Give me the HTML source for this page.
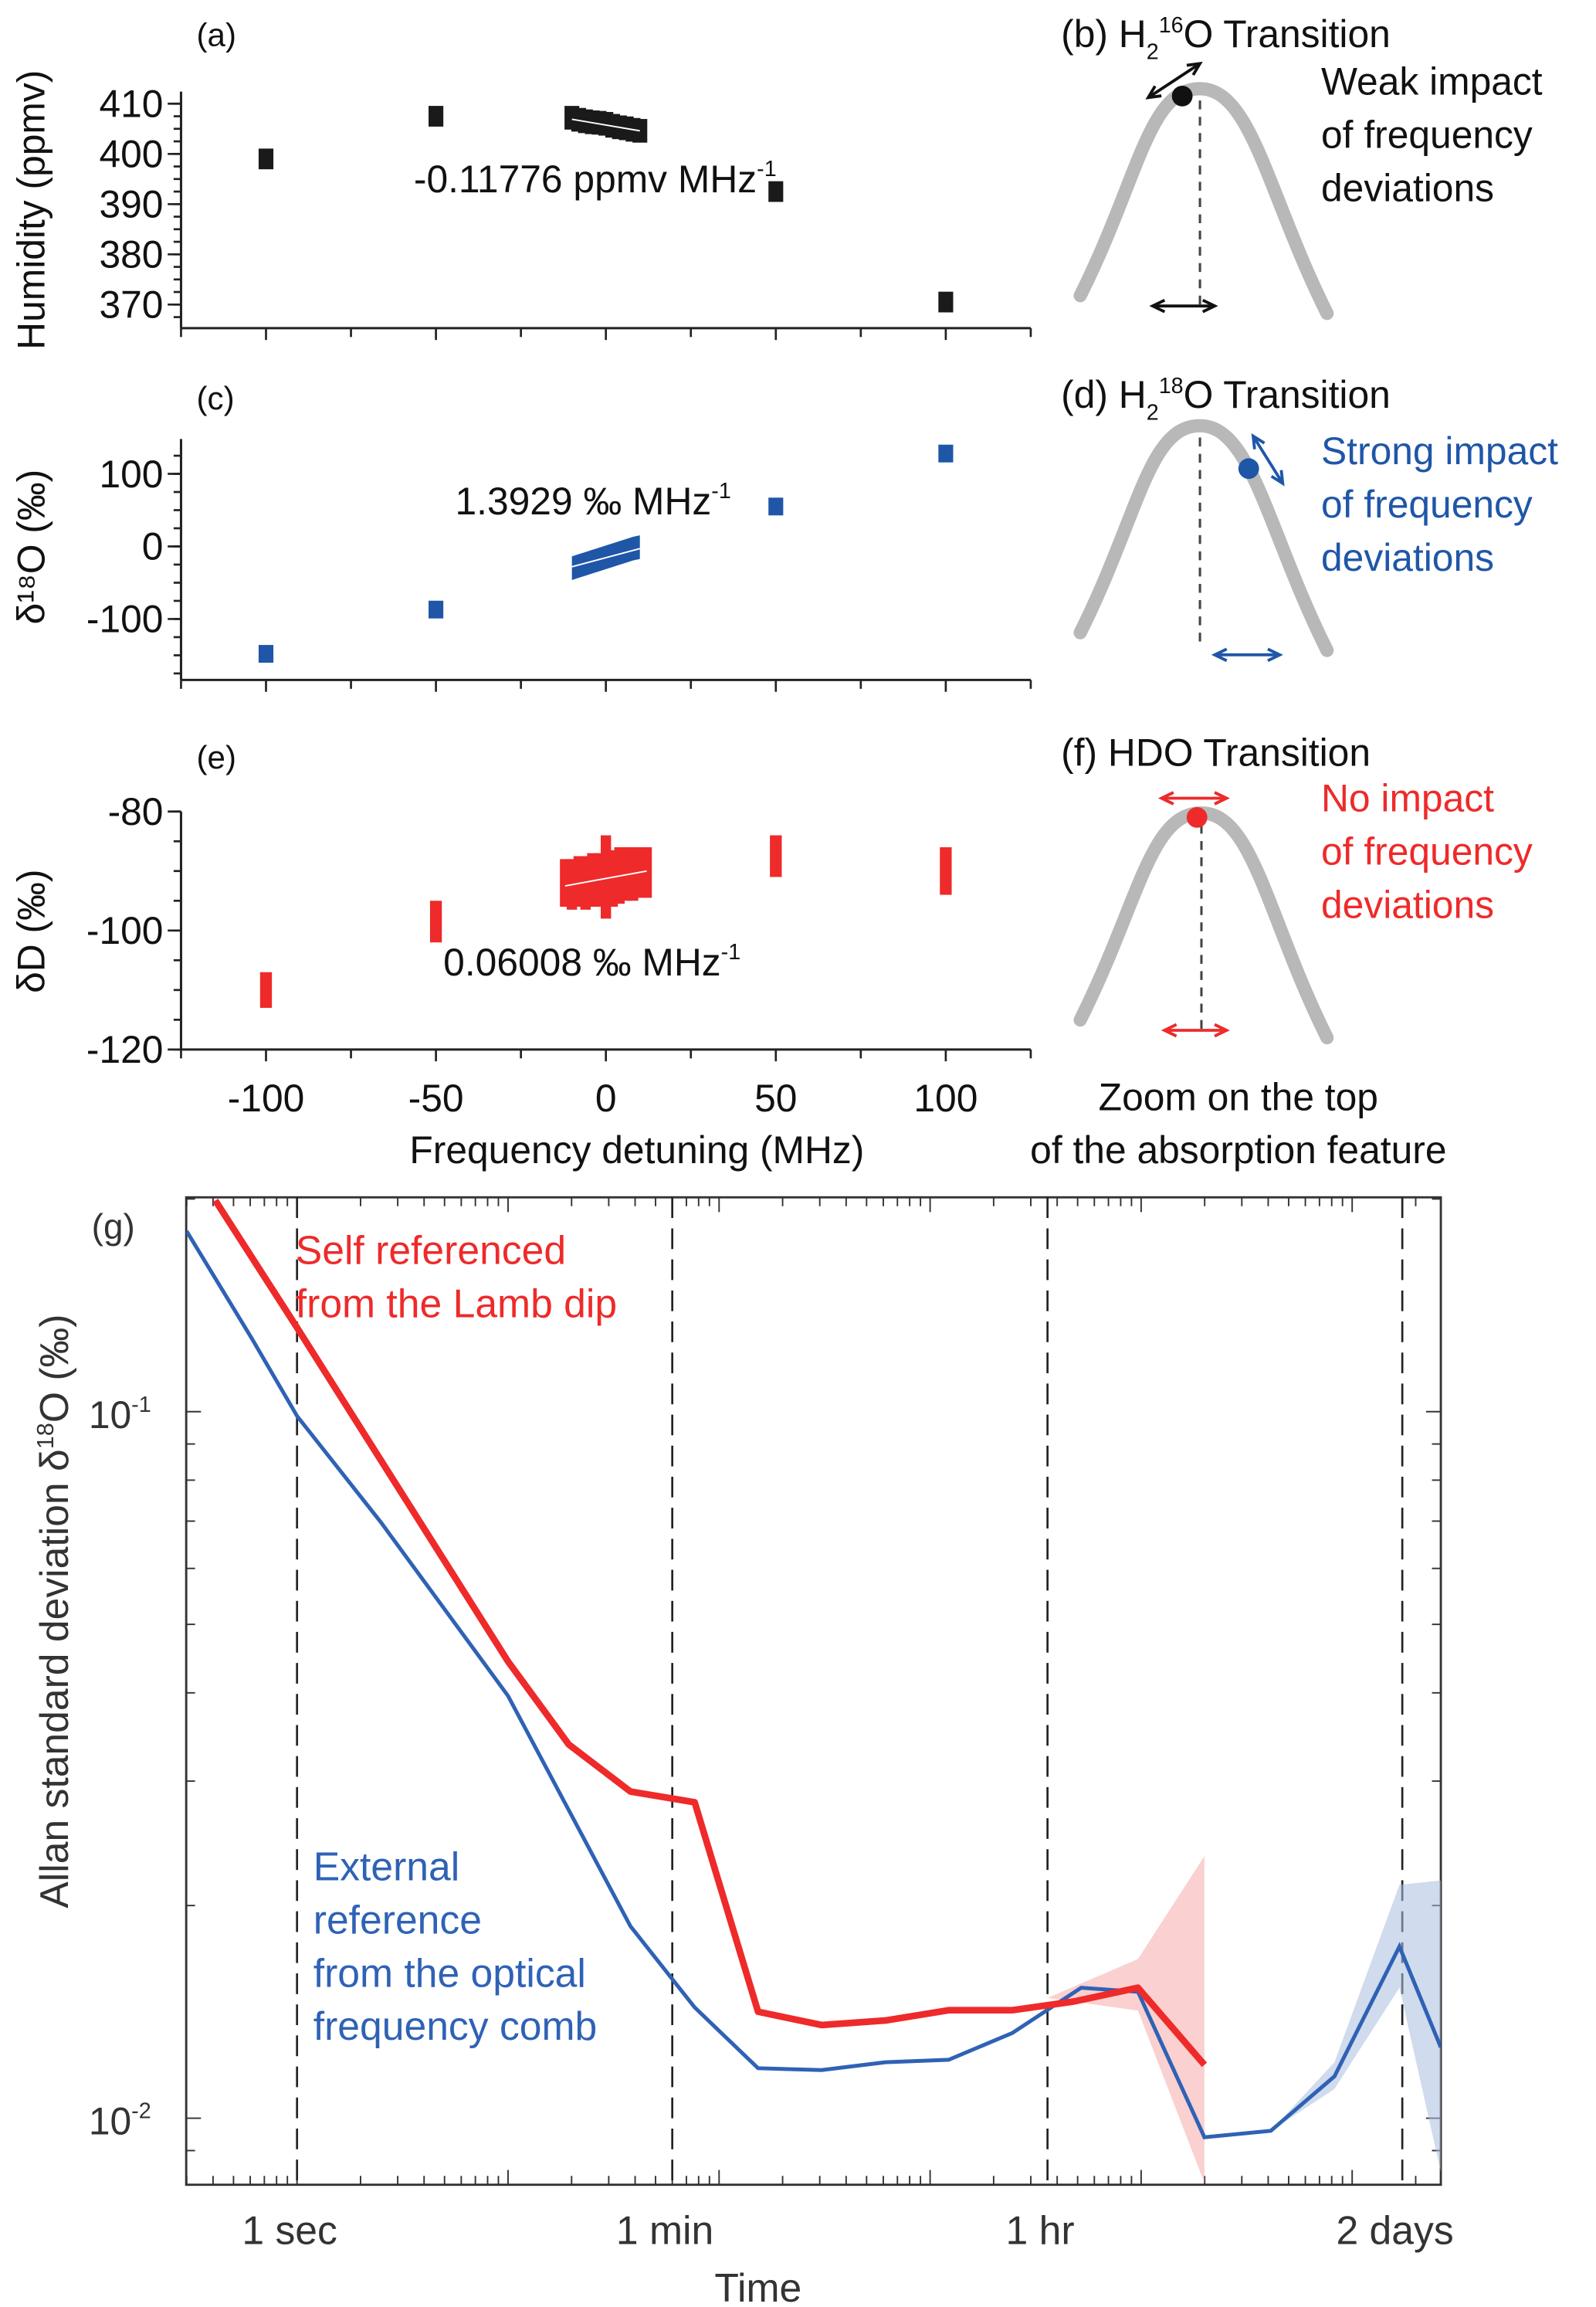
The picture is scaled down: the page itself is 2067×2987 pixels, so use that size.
<!DOCTYPE html>
<html><head><meta charset="utf-8"><style>
html,body{margin:0;padding:0;background:#fff}
svg{display:block}
text{font-family:"Liberation Sans",sans-serif}
</style></head><body>
<svg id="fig" xmlns="http://www.w3.org/2000/svg" width="2067" height="2987" viewBox="0 0 1080 1560.7">
<g id="topPanels"></g>
<g id="sch"></g>
<g id="allan"></g>
</svg>
<script>
// ---------- data ----------
const humX = [-100, -50, 50, 100];
const humY = [399, 407.5, 392.5, 370.5];
const humClusterX = [-10,-8,-6,-4,-2,0,2,4,6,8,10];
const humClusterY = [407.2,406.8,406.5,406.3,406.2,406,405.6,405.3,405.1,404.8,404.6];
const d18X = [-100, -50, 50, 100];
const d18Y = [-148, -87, 55, 128];
const d18ClusterX = [-10,-8,-6,-4,-2,0,2,4,6,8,10];
const d18ClusterY = [-30,-27,-24,-21,-18,-15,-12,-9,-6,-3,-1];
const dDX = [-100, -50, 50, 100];
const dDLo = [-113, -102, -91, -94];
const dDHi = [-107, -95, -84, -86];
const dDClusterX = [-12,-10,-8,-6,-4,-2,0,2,4,6,8,10,12];
const dDClusterLo = [-96,-96.5,-96,-96.5,-96,-96,-98,-96,-95.5,-95,-95,-94.5,-94.5];
const dDClusterHi = [-88,-88,-87.5,-87.5,-87,-87,-84,-86.5,-86,-86,-86,-86,-86];

const redTau = [0.41,1,2.5,10,19.4,38,76.6,153,306,612,1225,2450,4800,9660,19950];
const redVal = [0.199,0.1315,0.0853,0.0443,0.0338,0.029,0.028,0.01415,0.01355,0.01375,0.01422,0.01422,0.01463,0.0153,0.0119];
const blueTau = [0.30,0.61,1,2.5,10,38,76.6,153,306,612,1225,2450,5200,9660,19950,41200,82400,167500,263000];
const blueVal = [0.180,0.127,0.0986,0.0697,0.0396,0.0187,0.01435,0.01177,0.0117,0.0120,0.0121,0.0132,0.0153,0.0151,0.0094,0.0096,0.01146,0.0175,0.0126];
const redBandTau = [3600, 9660, 19950];
const redBandHi = [0.0148, 0.0168, 0.0235];
const redBandLo = [0.0148, 0.0142, 0.0081];
const blueBandTau = [41200, 82400, 167500, 263000];
const blueBandHi = [0.0096, 0.0120, 0.0214, 0.0217];
const blueBandLo = [0.0096, 0.0110, 0.0153, 0.0084];
const xTickLabels = ['-100','-50','0','50','100'];
const xTickVals = [-100,-50,0,50,100];

const NS='http://www.w3.org/2000/svg';
function mk(tag, attrs, parent){const e=document.createElementNS(NS,tag);for(const k in attrs)e.setAttribute(k,attrs[k]);parent.appendChild(e);return e;}
function txt(parent,x,y,s,size,fill,anchor){const t=mk('text',{x:x,y:y,'font-size':size,fill:fill||'#111','text-anchor':anchor||'start'},parent);t.textContent=s;return t;}
function slopeTxt(parent,x,y,s){const t=mk('text',{x:x,y:y,'font-size':26,fill:'#111'},parent);t.innerHTML=s+'<tspan font-size="15" dy="-11">-1</tspan>';return t;}

// ---------- top panels ----------
const topG=document.getElementById('topPanels');
const X0=122.5, X1=697.5;
const xs=v=>X0+(v+125)/250*(X1-X0);
function panel(yTop,yBot,ymin,ymax,majors,minorStep,name){
  const g=mk('g',{},topG);
  
  
  const ys=v=>yBot-(v-ymin)/(ymax-ymin)*(yBot-yTop);
  mk('line',{x1:X0,y1:yTop,x2:X0,y2:yBot,stroke:'#222','stroke-width':1.6},g);
  mk('line',{x1:X0,y1:yBot,x2:X1,y2:yBot,stroke:'#222','stroke-width':1.6},g);
  for(let v=-125;v<=125;v+=25){const maj=(v%50===0);mk('line',{x1:xs(v),y1:yBot,x2:xs(v),y2:yBot+(maj?8:6),stroke:'#222','stroke-width':1.4},g);}
  for(let v=Math.ceil(ymin/minorStep)*minorStep;v<=ymax;v+=minorStep){mk('line',{x1:X0,y1:ys(v),x2:X0-5,y2:ys(v),stroke:'#222','stroke-width':1.4},g);}
  majors.forEach(v=>{mk('line',{x1:X0,y1:ys(v),x2:X0-9,y2:ys(v),stroke:'#222','stroke-width':1.4},g);
    const t=txt(g,X0-12,ys(v)+9,String(v),26,'#111','end');
    
    });
  return {g,ys};
}
// (a)
let P=panel(62,222,365.3,412.4,[370,380,390,400,410],2.5,'humidity-panel');
txt(topG,133,31,'(a)',22);
humX.forEach((x,i)=>{const r=mk('rect',{x:xs(x)-5,y:P.ys(humY[i])-7,width:10,height:14,fill:'#1a1a1a'},P.g);
  
  });
humClusterX.forEach((x,i)=>{const r=mk('rect',{x:xs(x)-5,y:P.ys(humClusterY[i])-8,width:10,height:16,fill:'#1a1a1a'},P.g);
  
  });
mk('line',{x1:xs(-10),y1:P.ys(406.9),x2:xs(10),y2:P.ys(404.6),stroke:'#fff','stroke-width':1},P.g);
slopeTxt(topG,280,130,'-0.11776 ppmv MHz');
let t=mk('text',{x:30,y:142,'font-size':26,fill:'#111','text-anchor':'middle',transform:'rotate(-90 30 142)'},topG);t.textContent='Humidity (ppmv)';
// (c)
P=panel(297,460,-184,148,[-100,0,100],25,'d18o-panel');
txt(topG,133,277,'(c)',22);
d18X.forEach((x,i)=>{const r=mk('rect',{x:xs(x)-5,y:P.ys(d18Y[i])-6,width:10,height:12,fill:'#1f56a8'},P.g);
  
  });
let pts=d18ClusterX.map((x,i)=>xs(x)+','+(P.ys(d18ClusterY[i])-8)).join(' ')+' '+d18ClusterX.slice().reverse().map((x,i)=>xs(x)+','+(P.ys(d18ClusterY[d18ClusterY.length-1-i])+8)).join(' ');
let pg=mk('polygon',{points:pts,fill:'#1f56a8'},P.g);


mk('line',{x1:xs(-10),y1:P.ys(-28),x2:xs(10),y2:P.ys(-3),stroke:'#fff','stroke-width':1},P.g);
slopeTxt(topG,308,348,'1.3929 ‰ MHz');
t=mk('text',{x:30,y:370,'font-size':26,fill:'#111','text-anchor':'middle',transform:'rotate(-90 30 370)'},topG);t.textContent='δ¹⁸O (‰)';
// (e)
P=panel(549,710,-120,-80,[-80,-100,-120],5,'dd-panel');
txt(topG,133,520,'(e)',22);
dDX.forEach((x,i)=>{const r=mk('rect',{x:xs(x)-4,y:P.ys(dDHi[i]),width:8,height:P.ys(dDLo[i])-P.ys(dDHi[i]),fill:'#ee2a2a'},P.g);
  
  });
dDClusterX.forEach((x,i)=>{const r=mk('rect',{x:xs(x)-3.5,y:P.ys(dDClusterHi[i]),width:7,height:P.ys(dDClusterLo[i])-P.ys(dDClusterHi[i]),fill:'#ee2a2a'},P.g);
  
  });
mk('line',{x1:xs(-12),y1:P.ys(-92.5),x2:xs(12),y2:P.ys(-90),stroke:'#fff','stroke-width':1},P.g);
slopeTxt(topG,300,660,'0.06008 ‰ MHz');
t=mk('text',{x:30,y:630,'font-size':26,fill:'#111','text-anchor':'middle',transform:'rotate(-90 30 630)'},topG);t.textContent='δD (‰)';
xTickVals.forEach((v,i)=>{const l=txt(topG,xs(v),752,xTickLabels[i],26,'#111','middle');
  
  });
t=txt(topG,431,787,'Frequency detuning (MHz)',26,'#111','middle');


// ---------- schematics ----------
const sch=document.getElementById('sch');
function arrow(g,x1,y1,x2,y2,c){mk('line',{x1:x1,y1:y1,x2:x2,y2:y2,stroke:c,'stroke-width':2},g);
  const a=Math.atan2(y2-y1,x2-x1),AL=9,W=0.45;
  [[x2,y2,a],[x1,y1,a+Math.PI]].forEach(([x,y,b])=>{mk('polyline',{points:(x-AL*Math.cos(b-W))+','+(y-AL*Math.sin(b-W))+' '+x+','+y+' '+(x-AL*Math.cos(b+W))+','+(y-AL*Math.sin(b+W)),fill:'none',stroke:c,'stroke-width':2},g);});}
function curve(g,x0,y0,px,py,x1,y1){mk('path',{d:`M${x0},${y0} C${x0+40},${y0-80} ${px-35},${py} ${px},${py} C${px+35},${py} ${x1-40},${y1-80} ${x1},${y1}`,fill:'none',stroke:'#b8b8b8','stroke-width':9,'stroke-linecap':'round'},g);}
function schematic(y0,name,col,dot,arr,harr,peakx){
  const g=mk('g',{},sch);
  
  
  curve(g,731,y0+140,peakx,y0,898,y0+152);
  mk('line',{x1:peakx,y1:y0+8,x2:peakx,y2:y0+146,stroke:'#444','stroke-width':1.6,'stroke-dasharray':'6,5'},g);
  mk('circle',{cx:dot[0],cy:dot[1],r:7,fill:col},g);
  arrow(g,arr[0],arr[1],arr[2],arr[3],col);
  arrow(g,harr[0],harr[1],harr[2],harr[3],col);
  return g;
}
let g=schematic(60,'h2-16o-schematic','#111',[800,65],[777,66,812,43],[780,207,822,207],812);
['Weak impact','of frequency','deviations'].forEach((s,i)=>txt(g,894,64+i*36,s,26,'#111'));
t=mk('text',{x:718,y:32,'font-size':26,fill:'#111'},g);t.innerHTML='(b) H<tspan font-size="15" dy="8">2</tspan><tspan font-size="15" dy="-18">16</tspan><tspan dy="10">O Transition</tspan>';
g=schematic(288,'h2-18o-schematic','#1f56a8',[845,317],[848,295,868,327],[822,443,866,443],812);
['Strong impact','of frequency','deviations'].forEach((s,i)=>txt(g,894,314+i*36,s,26,'#1f56a8'));
t=mk('text',{x:718,y:276,'font-size':26,fill:'#111'},g);t.innerHTML='(d) H<tspan font-size="15" dy="8">2</tspan><tspan font-size="15" dy="-18">18</tspan><tspan dy="10">O Transition</tspan>';
g=schematic(550,'hdo-schematic','#ee2a2a',[810,553],[786,540,830,540],[788,697,830,697],813);
['No impact','of frequency','deviations'].forEach((s,i)=>txt(g,894,549+i*36,s,26,'#ee2a2a'));
txt(g,718,518,'(f) HDO Transition',26,'#111');
txt(sch,838,751,'Zoom on the top',26,'#111','middle');
txt(sch,838,787,'of the absorption feature',26,'#111','middle');

// ---------- Allan panel ----------
const al=document.getElementById('allan');
const L=126,R=975,T=810,B=1478;
const lxs=tau=>201+Math.log10(tau)*142.8;
const lys=v=>955-(Math.log10(v)+1)*478;
mk('rect',{x:L,y:T,width:R-L,height:B-T,fill:'none',stroke:'#333','stroke-width':1.5},al);
for(let d=-1;d<=5;d++)for(let m=1;m<10;m++){const x=lxs(m*Math.pow(10,d));if(x<L||x>R)continue;const h=m===1?10:6;
  mk('line',{x1:x,y1:B,x2:x,y2:B-h,stroke:'#333','stroke-width':1},al);mk('line',{x1:x,y1:T,x2:x,y2:T+h,stroke:'#333','stroke-width':1},al);}
for(let d=-3;d<=-1;d++)for(let m=1;m<10;m++){const y=lys(m*Math.pow(10,d));if(y<T||y>B)continue;const h=m===1?10:6;
  mk('line',{x1:L,y1:y,x2:L+h,y2:y,stroke:'#333','stroke-width':1},al);mk('line',{x1:R,y1:y,x2:R-h,y2:y,stroke:'#333','stroke-width':1},al);}
[1,60,3600,172800].forEach(tau=>{const l=mk('line',{x1:lxs(tau),y1:T,x2:lxs(tau),y2:B,stroke:'#222','stroke-width':1.4,'stroke-dasharray':'14,7'},al);
  });
function band(tau,hi,lo,col,name){const p=tau.map((x,i)=>lxs(x)+','+lys(hi[i])).join(' ')+' '+tau.slice().reverse().map((x,i)=>lxs(x)+','+lys(lo[lo.length-1-i])).join(' ');
  const e=mk('polygon',{points:p,fill:col},al);}
band(redBandTau,redBandHi,redBandLo,'rgba(246,170,170,0.55)','red-uncertainty-band');
band(blueBandTau,blueBandHi,blueBandLo,'rgba(170,190,222,0.55)','blue-uncertainty-band');
const cp=mk('clipPath',{id:'cp'},al);mk('rect',{x:L,y:T,width:R-L,height:B-T},cp);
let bl=mk('polyline',{points:blueTau.map((x,i)=>lxs(x)+','+lys(blueVal[i])).join(' '),fill:'none',stroke:'#2f62b5','stroke-width':2.6,'clip-path':'url(#cp)'},al);

let rl=mk('polyline',{points:redTau.map((x,i)=>lxs(x)+','+lys(redVal[i])).join(' '),fill:'none',stroke:'#ee2a2a','stroke-width':4.5,'clip-path':'url(#cp)','stroke-linejoin':'round'},al);

txt(al,62,838,'(g)',24,'#333');
txt(al,200,855,'Self referenced',27,'#ee2a2a');txt(al,200,891,'from the Lamb dip',27,'#ee2a2a');
['External','reference','from the optical','frequency comb'].forEach((s,i)=>txt(al,212,1272+i*36,s,27,'#2f62b5'));
t=mk('text',{x:60,y:966,'font-size':26,fill:'#333'},al);t.innerHTML='10<tspan font-size="15" dy="-11">-1</tspan>';
t=mk('text',{x:60,y:1444,'font-size':26,fill:'#333'},al);t.innerHTML='10<tspan font-size="15" dy="-11">-2</tspan>';
[['1 sec',1],['1 min',60],['1 hr',3600],['2 days',172800]].forEach(([s,v])=>{const l=txt(al,lxs(v)-5,1518,s,27,'#333','middle');
  });
t=txt(al,513,1557,'Time',27,'#333','middle');
t=mk('text',{x:46,y:1090,'font-size':27,fill:'#333','text-anchor':'middle',transform:'rotate(-90 46 1090)'},al);t.innerHTML='Allan standard deviation δ<tspan font-size="16" dy="-10">18</tspan><tspan dy="10">O (‰)</tspan>';
</script>
</body></html>
